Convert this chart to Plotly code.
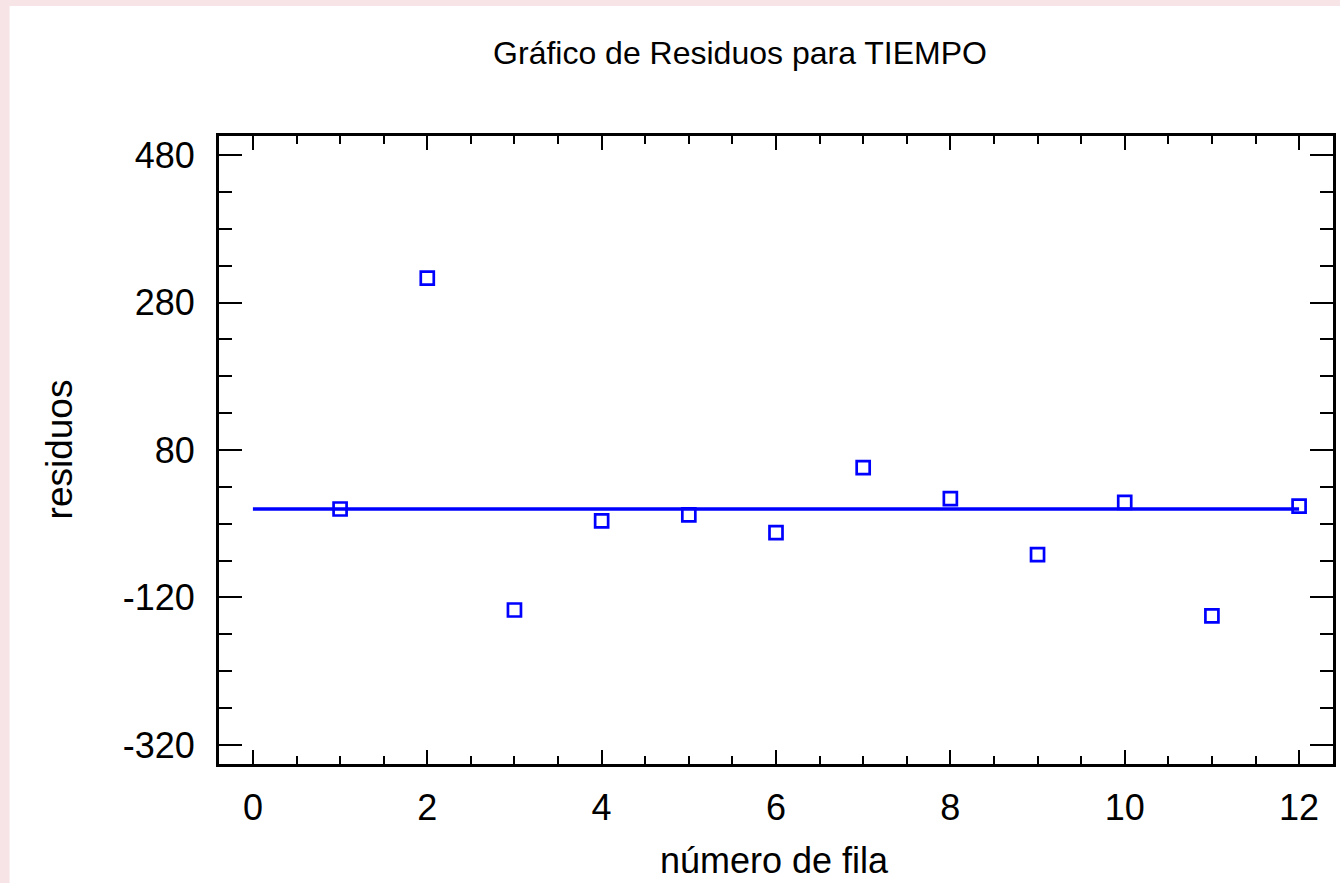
import plotly.graph_objects as go

# Data
fila = [1, 2, 3, 4, 5, 6, 7, 8, 9, 10, 11, 12]
residuos = [0, 313, -137, -16, -8, -32, 56, 14, -62, 9, -145, 4]
ref_x = [0, 12]
ref_y = [0, 0]
y_ticks = [-320, -120, 80, 280, 480]
y_tick_labels = ["-320", "-120", "80", "280", "480"]
x_ticks = [0, 2, 4, 6, 8, 10, 12]
x_tick_labels = ["0", "2", "4", "6", "8", "10", "12"]

BLUE = "#0000ff"
FONT = "Liberation Sans, Arial, sans-serif"

W, H = 1340, 883
L, R, T, B = 219, 4, 136, 119
pw, ph = W - L - R, H - T - B

def px_x(p):
    return (p - L) / pw

def px_y(p):
    return (H - B - p) / ph

fig = go.Figure()
fig.add_trace(go.Scatter(x=ref_x, y=ref_y, mode="lines",
                         line=dict(color=BLUE, width=3.5), hoverinfo="skip"))
fig.add_trace(go.Scatter(x=fila, y=residuos, mode="markers",
                         marker=dict(symbol="square-open", size=13,
                                     color=BLUE, line=dict(color=BLUE, width=2.7))))

axis_common = dict(showgrid=False, zeroline=False, showline=True, linecolor="black",
                   linewidth=3, mirror="allticks", ticks="inside", tickcolor="black",
                   tickwidth=2, tickfont=dict(family=FONT, size=36, color="black"))

fig.update_xaxes(range=[-0.389, 12.389], tickvals=x_ticks, ticktext=x_tick_labels, ticklen=14,
                 minor=dict(ticks="inside", dtick=0.5, tick0=0, ticklen=8,
                            tickwidth=2, tickcolor="black", showgrid=False),
                 ticklabelstandoff=10, **axis_common)
fig.update_yaxes(range=[-345.8, 505.8], tickvals=y_ticks, ticktext=y_tick_labels, ticklen=23,
                 minor=dict(ticks="inside", dtick=50, tick0=480, ticklen=13,
                            tickwidth=2, tickcolor="black", showgrid=False),
                 ticklabelstandoff=14, **axis_common)

fig.update_layout(
    width=W, height=H,
    margin=dict(l=L, r=R, t=T, b=B, pad=0),
    paper_bgcolor="#f6e4e6",
    plot_bgcolor="white",
    showlegend=False,
    title=dict(text="Gráfico de Residuos para TIEMPO", xref="container", yref="container",
               x=740 / W, y=1 - 53 / H, xanchor="center", yanchor="middle",
               font=dict(family=FONT, size=32, color="black")),
    shapes=[dict(type="rect", xref="paper", yref="paper", layer="below",
                 x0=px_x(9), x1=px_x(W + 5), y0=px_y(6), y1=px_y(H + 5),
                 fillcolor="white", line=dict(width=0))],
    annotations=[
        dict(text="número de fila", xref="paper", yref="paper", x=px_x(776), y=px_y(860),
             xanchor="center", yanchor="middle", showarrow=False,
             font=dict(family=FONT, size=36, color="black")),
        dict(text="residuos", xref="paper", yref="paper", x=px_x(60), y=px_y(449),
             xanchor="center", yanchor="middle", textangle=-90, showarrow=False,
             font=dict(family=FONT, size=37, color="black")),
    ],
)

fig.write_html("out.html")
